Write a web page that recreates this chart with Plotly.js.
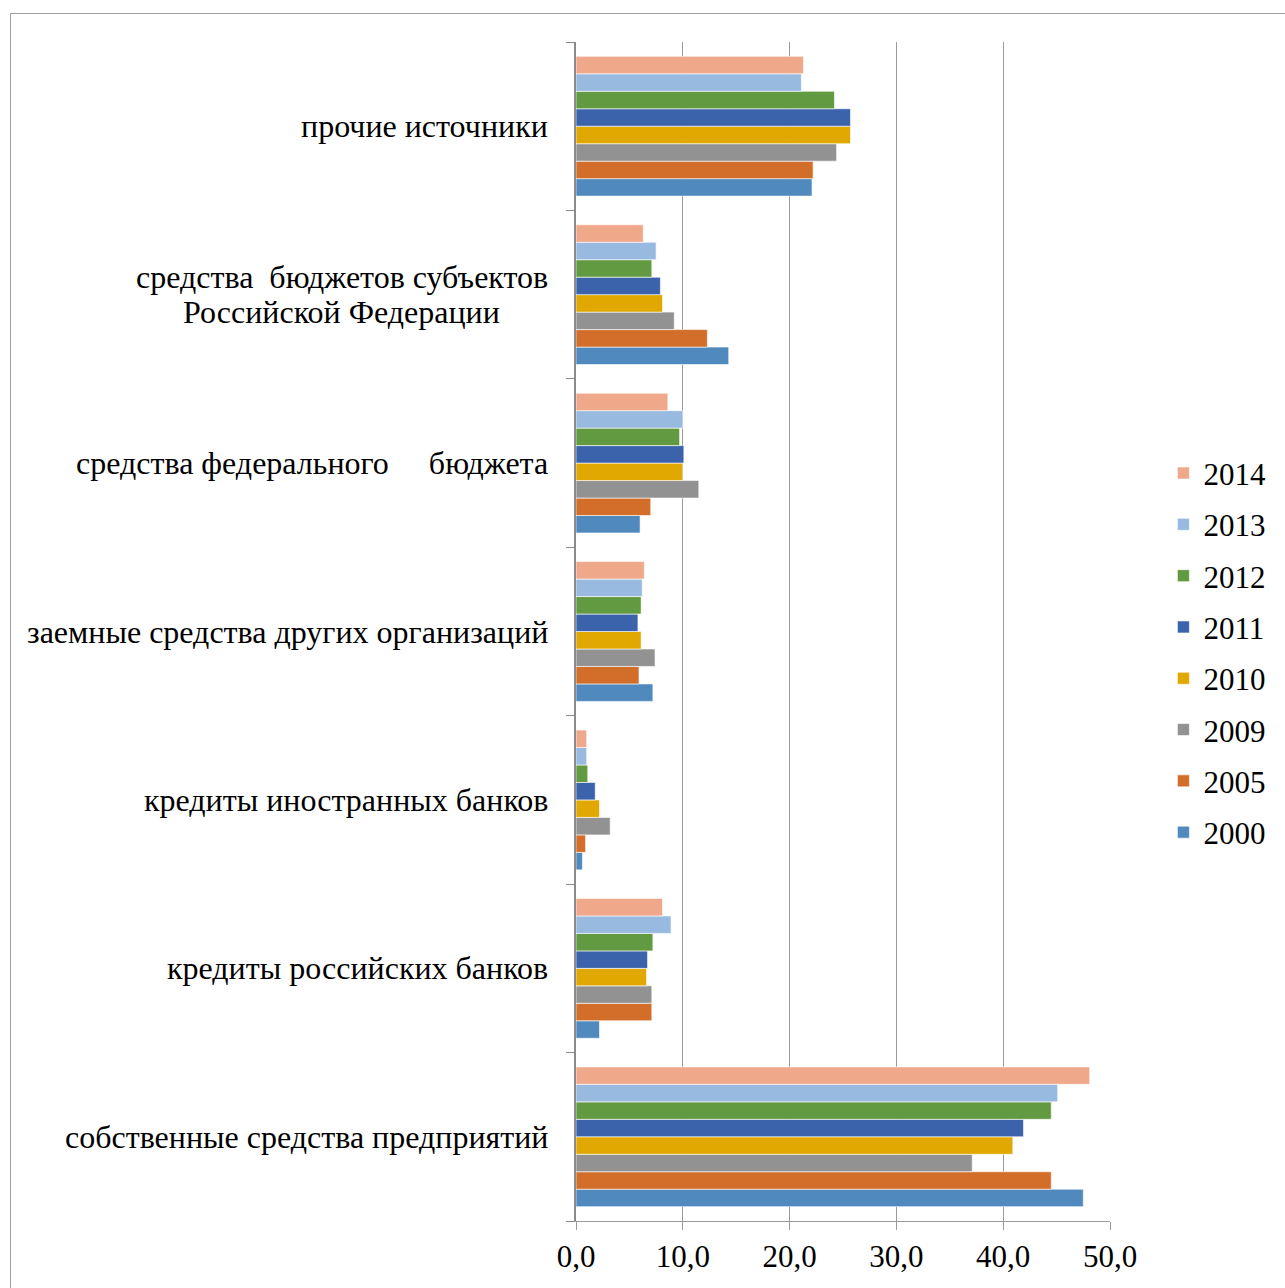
<!DOCTYPE html>
<html><head><meta charset="utf-8">
<script src="https://cdn.plot.ly/plotly-3.0.1.min.js"></script>
<style>
html,body{margin:0;padding:0;background:#fff;overflow:hidden;}
#frame{position:absolute;left:10px;top:13px;width:1400px;height:1400px;border:1px solid #a0a0a0;pointer-events:none;z-index:5;}
#chart{position:absolute;left:0;top:0;width:1285px;height:1288px;}
</style></head>
<body>
<div id="chart"></div>
<div id="frame"></div>
<script>
// categories, bottom to top
var categories = [
  "собственные средства предприятий",
  "кредиты российских банков",
  "кредиты иностранных банков",
  "заемные средства других организаций",
  "средства федерального\u00a0\u00a0\u00a0\u00a0\u00a0бюджета",
  "средства\u00a0\u00a0бюджетов субъектов Российской Федерации",
  "прочие источники"
];
// label lines shown for each category
var categoryLines = [
  ["собственные средства предприятий"],
  ["кредиты российских банков"],
  ["кредиты иностранных банков"],
  ["заемные средства других организаций"],
  ["средства федерального\u00a0\u00a0\u00a0\u00a0\u00a0бюджета"],
  ["средства\u00a0\u00a0бюджетов субъектов", "Российской Федерации"],
  ["прочие источники"]
];
var years = ["2000", "2005", "2009", "2010", "2011", "2012", "2013", "2014"];
var v2000 = [47.5, 2.2, 0.6, 7.2, 6.0, 14.3, 22.1];
var v2005 = [44.5, 7.1, 0.9, 5.9, 7.0, 12.3, 22.2];
var v2009 = [37.1, 7.1, 3.2, 7.4, 11.5, 9.2, 24.4];
var v2010 = [40.9, 6.6, 2.2, 6.1, 10.0, 8.1, 25.7];
var v2011 = [41.9, 6.7, 1.8, 5.8, 10.1, 7.9, 25.7];
var v2012 = [44.5, 7.2, 1.1, 6.1, 9.7, 7.1, 24.2];
var v2013 = [45.1, 8.9, 1.0, 6.2, 10.0, 7.5, 21.1];
var v2014 = [48.1, 8.1, 1.0, 6.4, 8.6, 6.3, 21.3];
var xTicks = [0, 10, 20, 30, 40, 50];
var xTickLabels = ["0,0", "10,0", "20,0", "30,0", "40,0", "50,0"];

var series = [v2000, v2005, v2009, v2010, v2011, v2012, v2013, v2014];
var colors = ["#4F89BD", "#D26E2A", "#929292", "#E0A800", "#3A63AB", "#629A41", "#98B9E0", "#F0A88A"];
var font = "Liberation Serif, Times New Roman, serif";

var traces = series.map(function (vals, i) {
  return {
    type: "bar", orientation: "h",
    name: years[i], x: vals, y: categories,
    legendgroup: years[i],
    legendrank: 100 - i,
    marker: {color: colors[i], line: {color: "rgba(255,255,255,0.6)", width: 1}},
    hoverinfo: "x+name"
  };
});

var annotations = [];
categories.forEach(function (c, i) {
  var lines = categoryLines[i];
  var n = lines.length;
  lines.forEach(function (t, k) {
    annotations.push({
      xref: "paper", yref: "y", x: -0.048, y: c, text: t,
      xanchor: "right", yanchor: "middle", align: "center", showarrow: false,
      xshift: (n > 1 && k === 1) ? -48 : 0,
      yshift: n > 1 ? (k === 0 ? 17.5 : -17.5) : 0,
      font: {family: font, size: 32, color: "#000"}
    });
  });
});

var layout = {
  width: 1285, height: 1288,
  margin: {l: 576, r: 175, t: 42, b: 67, autoexpand: false},
  paper_bgcolor: "#fff", plot_bgcolor: "#fff",
  barmode: "group", bargap: 0.17, bargroupgap: 0,
  showlegend: true,
  legend: {
    x: 1.100, xanchor: "left", y: 0.657, yanchor: "top",
    traceorder: "grouped", tracegroupgap: 8,
    font: {family: font, size: 31, color: "#000"}
  },
  xaxis: {
    range: [0, 50], tickvals: xTicks, ticktext: xTickLabels,
    showgrid: true, gridcolor: "#9a9a9a", gridwidth: 1,
    showline: true, linecolor: "#9a9a9a", linewidth: 1,
    ticks: "outside", ticklen: 8, tickcolor: "#9a9a9a",
    zeroline: false,
    tickfont: {family: font, size: 31, color: "#000"}
  },
  yaxis: {
    type: "category", categoryorder: "array", categoryarray: categories,
    showticklabels: false, showgrid: false,
    showline: true, linecolor: "#8a8a8a", linewidth: 2,
    ticks: "outside", ticklen: 8, tickcolor: "#8a8a8a", tickson: "boundaries"
  },
  annotations: annotations
};

Plotly.newPlot("chart", traces, layout, {staticPlot: true});
</script>
</body></html>
